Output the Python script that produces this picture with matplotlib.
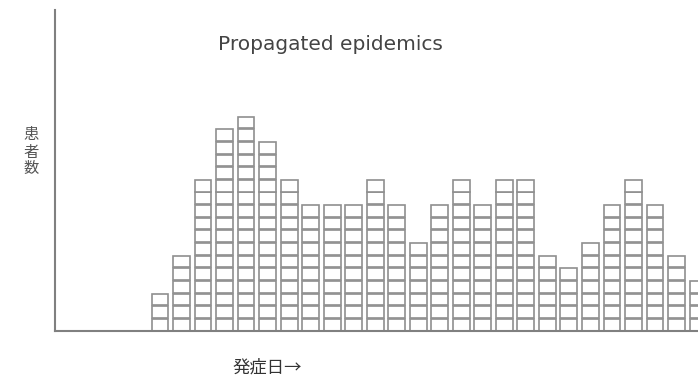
#!/usr/bin/env python3
"""Propagated epidemic curve drawn as stacked case boxes"""

import matplotlib
matplotlib.use('Agg')
import matplotlib.pyplot as plt
from matplotlib.patches import Rectangle

plt.rcParams['font.family'] = ['Noto Sans CJK JP', 'DejaVu Sans']

# cases per onset day (one box = one case)
days = list(range(26))
cases = [3, 6, 12, 16, 17, 15, 12, 10, 10, 10, 12, 10, 7, 10, 12, 10,
         12, 12, 6, 5, 7, 10, 12, 10, 6, 4]

title = 'Propagated epidemics'
ylabel = '患\n者\n数'
xlabel = '発症日→'

fig = plt.figure(figsize=(6.98, 3.83), dpi=100)
ax = fig.add_axes([55 / 698, 52 / 383, 643 / 698, 321 / 383])

box_w = 0.78
gap = 0.07
for d, n in zip(days, cases):
    for k in range(n):
        ax.add_patch(Rectangle((d - box_w / 2, k + gap / 2), box_w, 1 - gap,
                               facecolor='white', edgecolor='#8f8f8f', linewidth=1.2))

ax.set_xlim(-4.88, 25)
ax.set_ylim(0, 25.4)
ax.set_xticks([])
ax.set_yticks([])
for s in ('top', 'right'):
    ax.spines[s].set_visible(False)
for s in ('left', 'bottom'):
    ax.spines[s].set_color('#808080')
    ax.spines[s].set_linewidth(1.5)

fig.text(218 / 698, 1 - 45 / 383, title, fontsize=14.5, color='#444444',
         family='DejaVu Sans', va='center', ha='left')
fig.text(31 / 698, 1 - 152 / 383, ylabel, fontsize=11, color='#555555',
         va='center', ha='center', linespacing=1.0)
fig.text(232 / 698, 1 - 368 / 383, xlabel, fontsize=12.5, color='#333333',
         va='center', ha='left')

plt.savefig('out.png', dpi=100)
